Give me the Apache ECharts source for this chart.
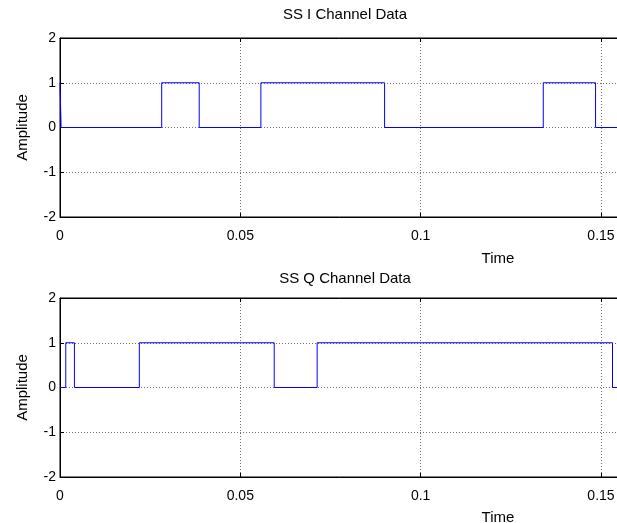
<!DOCTYPE html>
<html>
<head>
<meta charset="utf-8">
<script src="https://cdn.jsdelivr.net/npm/echarts@6/dist/echarts.min.js"></script>
<style>
html,body{margin:0;padding:0;overflow:hidden;background:#fff;width:617px;height:523px;}
#c{width:700px;height:523px;}
</style>
</head>
<body>
<div id="c"></div>
<script>
// Data
const iTimes  = [0, 0.0003, 0.0282, 0.0386, 0.0557, 0.0900, 0.1340, 0.1485, 0.155];
const iValues = [1, 0,      1,      0,      1,      0,      1,      0,      0];
const qTimes  = [0, 0.0016, 0.0040, 0.0220, 0.0594, 0.0713, 0.1532, 0.155];
const qValues = [0, 1,      0,      1,      0,      1,      0,      0];
const xTicks = [0, 0.05, 0.1, 0.15];
const yTicks = [-2, -1, 0, 1, 2];
const titles = ['SS I Channel Data', 'SS Q Channel Data'];
const xName = 'Time';
const yName = 'Amplitude';

const XMAX = 0.155;
const FONT = '"Liberation Sans", Arial, sans-serif';

function zip(a, b) { return a.map((v, i) => [v, b[i]]); }
function xFmt(v) {
  for (const t of xTicks) if (Math.abs(v - t) < 1e-9) return String(t);
  return '';
}

const grids = [
  {left: 60, top: 38, width: 559, height: 179, show: true, borderColor: '#000', borderWidth: 1},
  {left: 60, top: 298, width: 559, height: 179, show: true, borderColor: '#000', borderWidth: 1}
];

const xAxes = [], yAxes = [];
[0, 1].forEach(g => {
  xAxes.push({
    gridIndex: g, type: 'value', min: 0, max: XMAX, interval: 0.05,
    axisLine: {show: true, onZero: false, lineStyle: {color: '#000', width: 1}},
    axisTick: {show: true, inside: true, length: 4, lineStyle: {color: '#000'}},
    axisLabel: {color: '#000', fontSize: 14, fontFamily: FONT, margin: 12, formatter: xFmt},
    splitLine: {show: true, lineStyle: {type: [1, 2], color: '#707070', width: 1}}
  });
  xAxes.push({
    gridIndex: g, type: 'value', position: 'top', min: 0, max: XMAX, interval: 0.05,
    axisLine: {show: true, onZero: false, lineStyle: {color: '#000', width: 1}},
    axisTick: {show: true, inside: true, length: 4, lineStyle: {color: '#000'}},
    axisLabel: {show: false}, splitLine: {show: false}
  });
  yAxes.push({
    gridIndex: g, type: 'value', min: -2, max: 2, interval: 1,
    name: yName, nameLocation: 'middle', nameGap: 30, nameRotate: 90,
    nameTextStyle: {color: '#000', fontSize: 15, fontFamily: FONT},
    axisLine: {show: true, onZero: false, lineStyle: {color: '#000', width: 1}},
    axisTick: {show: true, inside: true, length: 4, lineStyle: {color: '#000'}},
    axisLabel: {color: '#000', fontSize: 14, fontFamily: FONT, margin: 4},
    splitLine: {show: true, lineStyle: {type: [1, 2], color: '#707070', width: 1}}
  });
});

const option = {
  animation: false,
  backgroundColor: '#fff',
  title: [
    {text: titles[0], left: 340, top: 2, textAlign: 'center',
     textStyle: {fontSize: 15, fontWeight: 'normal', color: '#000', fontFamily: FONT}},
    {text: titles[1], left: 340, top: 266, textAlign: 'center',
     textStyle: {fontSize: 15, fontWeight: 'normal', color: '#000', fontFamily: FONT}},
    {text: xName, left: 493, top: 246, textAlign: 'center',
     textStyle: {fontSize: 15, fontWeight: 'normal', color: '#000', fontFamily: FONT}},
    {text: xName, left: 493, top: 505, textAlign: 'center',
     textStyle: {fontSize: 15, fontWeight: 'normal', color: '#000', fontFamily: FONT}}
  ],
  grid: grids,
  xAxis: xAxes,
  yAxis: yAxes,
  series: [
    {type: 'line', xAxisIndex: 0, yAxisIndex: 0, step: 'end', showSymbol: false,
     lineStyle: {color: '#0000ff', width: 1}, data: zip(iTimes, iValues)},
    {type: 'line', xAxisIndex: 2, yAxisIndex: 1, step: 'end', showSymbol: false,
     lineStyle: {color: '#0000ff', width: 1}, data: zip(qTimes, qValues)}
  ]
};
const chart = echarts.init(document.getElementById('c'), null, {renderer: 'canvas'});
chart.setOption(option);
</script>
</body>
</html>
